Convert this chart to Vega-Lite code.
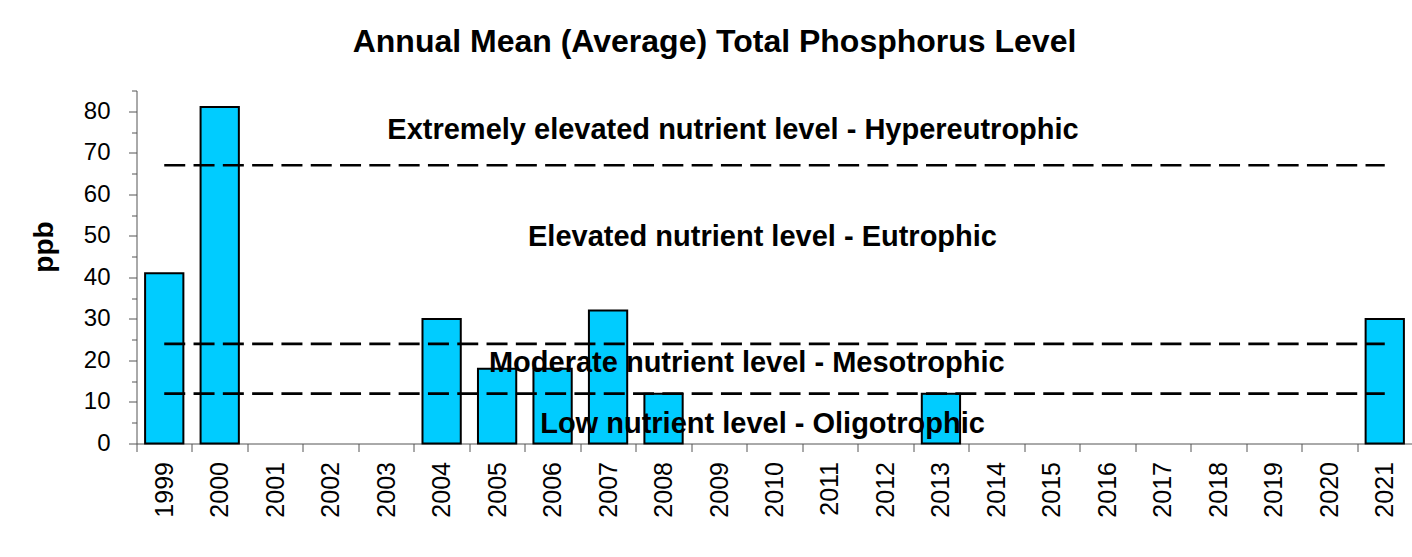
{
  "$schema": "https://vega.github.io/schema/vega-lite/v6.json",
  "width": 1276,
  "height": 353,
  "autosize": {"type": "none"},
  "padding": {"left": 136.5, "top": 90.5, "right": 0, "bottom": 114},
  "background": "white",
  "title": {
    "text": "Annual Mean (Average) Total Phosphorus Level",
    "font": "Liberation Sans",
    "fontSize": 32,
    "fontWeight": "bold",
    "color": "black",
    "anchor": "middle",
    "frame": "group",
    "baseline": "alphabetic",
    "dx": -60,
    "offset": 6
  },
  "config": {
    "view": {"stroke": null},
    "font": "Liberation Sans"
  },
  "data": {
    "values": [
      {"year": "1999", "ppb": 41},
      {"year": "2000", "ppb": 81},
      {"year": "2004", "ppb": 30},
      {"year": "2005", "ppb": 18},
      {"year": "2006", "ppb": 18},
      {"year": "2007", "ppb": 32},
      {"year": "2008", "ppb": 12},
      {"year": "2013", "ppb": 12},
      {"year": "2021", "ppb": 30}
    ]
  },
  "encoding": {
    "x": {
      "field": "year",
      "type": "nominal",
      "sort": null,
      "scale": {
        "domain": ["1999","2000","2001","2002","2003","2004","2005","2006","2007","2008","2009","2010","2011","2012","2013","2014","2015","2016","2017","2018","2019","2020","2021"],
        "paddingInner": 0,
        "paddingOuter": 0
      },
      "axis": {
        "title": null,
        "tickBand": "extent",
        "labelAngle": -90,
        "labelFont": "Liberation Sans",
        "labelFontSize": 25,
        "labelColor": "black",
        "labelPadding": 10,
        "tickSize": 8,
        "tickColor": "#555555",
        "domainColor": "#555555",
        "grid": false
      }
    },
    "y": {
      "field": "ppb",
      "type": "quantitative",
      "scale": {"domain": [0, 85], "nice": false},
      "axis": {
        "values": [0, 5, 10, 15, 20, 25, 30, 35, 40, 45, 50, 55, 60, 65, 70, 75, 80, 85],
        "labelExpr": "datum.value % 10 === 0 ? datum.label : ''",
        "tickSize": {"condition": {"test": "datum.value % 10 !== 0", "value": 5}, "value": 8},
        "tickColor": "#555555",
        "domainColor": "#555555",
        "grid": false,
        "labelFont": "Liberation Sans",
        "labelFontSize": 24,
        "labelColor": "black",
        "labelPadding": 18.5,
        "title": "ppb",
        "titleFont": "Liberation Sans",
        "titleFontSize": 28,
        "titleFontWeight": "bold",
        "titleColor": "black",
        "titleAngle": -90,
        "titleAlign": "center",
        "titleBaseline": "middle",
        "titleX": -92,
        "titleY": 156
      }
    }
  },
  "layer": [
    {
      "mark": {"type": "bar", "width": {"band": 0.69}, "fill": "#00CCFF", "stroke": "black", "strokeWidth": 2}
    },
    {
      "data": {
        "values": [
          {"year": "1999", "ppb": 67, "level": "Hypereutrophic"},
          {"year": "2021", "ppb": 67, "level": "Hypereutrophic"},
          {"year": "1999", "ppb": 24, "level": "Eutrophic"},
          {"year": "2021", "ppb": 24, "level": "Eutrophic"},
          {"year": "1999", "ppb": 12, "level": "Mesotrophic"},
          {"year": "2021", "ppb": 12, "level": "Mesotrophic"}
        ]
      },
      "mark": {"type": "line", "color": "black", "strokeWidth": 2.6, "strokeDash": [21, 8.3]},
      "encoding": {
        "detail": {"field": "level", "type": "nominal"}
      }
    },
    {
      "data": {"values": [{"year": "2009", "ppb": 73.3, "label": "Extremely elevated nutrient level - Hypereutrophic"}]},
      "mark": {"type": "text", "font": "Liberation Sans", "fontSize": 29, "fontWeight": "bold", "color": "black", "align": "center", "baseline": "alphabetic", "dx": 14},
      "encoding": {"text": {"field": "label"}}
    },
    {
      "data": {"values": [
        {"year": "2010", "ppb": 47.5, "label": "Elevated nutrient level - Eutrophic"},
        {"year": "2010", "ppb": 2.55, "label": "Low nutrient level - Oligotrophic"}
      ]},
      "mark": {"type": "text", "font": "Liberation Sans", "fontSize": 29, "fontWeight": "bold", "color": "black", "align": "center", "baseline": "alphabetic", "dx": -12},
      "encoding": {"text": {"field": "label"}}
    },
    {
      "data": {"values": [{"year": "2010", "ppb": 17.25, "label": "Moderate nutrient level - Mesotrophic"}]},
      "mark": {"type": "text", "font": "Liberation Sans", "fontSize": 29, "fontWeight": "bold", "color": "black", "align": "center", "baseline": "alphabetic"},
      "encoding": {
        "x": {"field": "year", "type": "nominal", "bandPosition": 0},
        "text": {"field": "label"}
      }
    }
  ]
}
